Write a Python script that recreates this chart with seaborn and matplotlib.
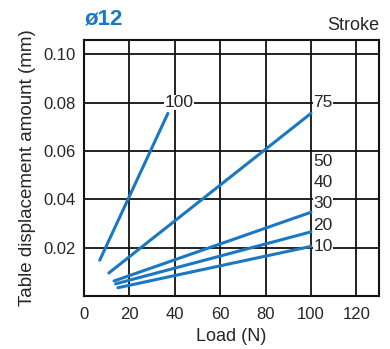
import matplotlib
matplotlib.use("Agg")
import matplotlib.pyplot as plt
import seaborn as sns
import pandas as pd

strokes = ["100", "75", "30", "20", "10"]
load_start = [7, 11, 13.3, 14, 15]
load_end = [37, 100, 100, 100, 100]
disp_start = [0.0148, 0.0095, 0.0062, 0.005, 0.0034]
disp_end = [0.0755, 0.0755, 0.0346, 0.0265, 0.0205]

label_texts = ["100", "75", "50", "40", "30", "20", "10"]
label_x = [42, 101, 101, 101, 101, 101, 101]
label_y = [0.080, 0.080, 0.0558, 0.0470, 0.0383, 0.0290, 0.0204]

x_ticks = [0, 20, 40, 60, 80, 100, 120]
y_ticks = [0.02, 0.04, 0.06, 0.08, 0.10]

rows = []
for s, x0, x1, y0, y1 in zip(strokes, load_start, load_end, disp_start, disp_end):
    rows.append({"stroke": s, "load": x0, "disp": y0})
    rows.append({"stroke": s, "load": x1, "disp": y1})
df = pd.DataFrame(rows)

sns.set_style("white")
plt.rcParams['font.family'] = ['Liberation Sans', 'DejaVu Sans']

fig = plt.figure(figsize=(3.9, 3.49), dpi=100)
ax = fig.add_axes([0.215, 0.152, 0.757, 0.733])

blue = "#1a78c2"
sns.lineplot(data=df, x="load", y="disp", units="stroke", estimator=None,
             color=blue, linewidth=2.2, ax=ax, legend=False, zorder=3)

ax.set_xlim(0, 130)
ax.set_ylim(0, 0.1058)
ax.set_xticks(x_ticks)
ax.set_yticks(y_ticks)
ax.set_xticklabels([str(t) for t in x_ticks], fontsize=12)
ax.set_yticklabels([f"{t:.2f}" for t in y_ticks], fontsize=12)
ax.grid(True, color="#111111", linewidth=1.3)
ax.set_axisbelow(True)
for sp in ax.spines.values():
    sp.set_color("#111111")
    sp.set_linewidth(1.5)
ax.tick_params(axis="x", length=0, pad=8)
ax.tick_params(axis="y", length=0, pad=6)

ax.set_xlabel("Load (N)", fontsize=13, labelpad=4)
ax.set_ylabel("Table displacement amount (mm)", fontsize=13.5, labelpad=5)

for i, (t, x, y) in enumerate(zip(label_texts, label_x, label_y)):
    ha = "center" if i == 0 else "left"
    ax.text(x, y, t, fontsize=12.5, ha=ha, va="center", zorder=4,
            bbox=dict(facecolor="white", edgecolor="none", pad=0.2))

fig.text(0.218, 0.945, "ø12", color=blue, fontsize=16, fontweight="bold",
         ha="left", va="center")
fig.text(0.972, 0.928, "Stroke", fontsize=13, ha="right", va="center")

fig.savefig("out.png", dpi=100)
